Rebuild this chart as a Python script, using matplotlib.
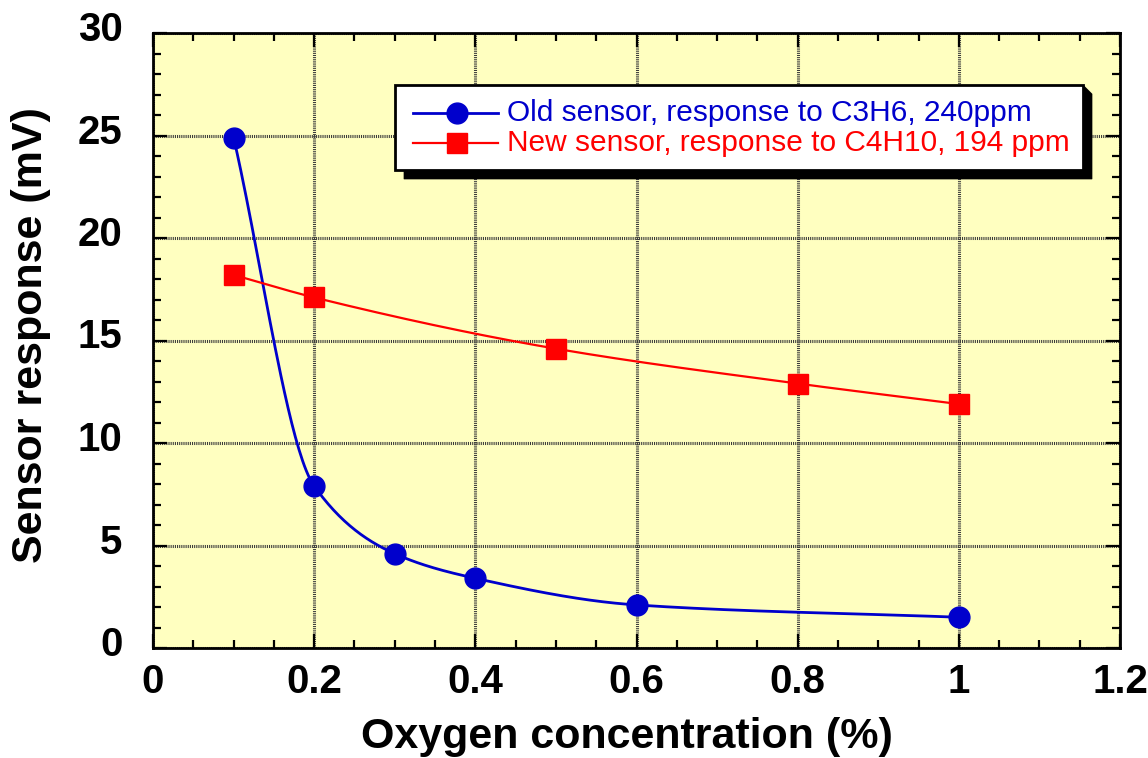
import numpy as np
import matplotlib
matplotlib.use("Agg")
import matplotlib.pyplot as plt
from matplotlib.ticker import MultipleLocator
from matplotlib.patches import Rectangle, Polygon
from matplotlib.lines import Line2D
from matplotlib.transforms import ScaledTranslation

# Measured sensor responses
old_x = [0.1, 0.2, 0.3, 0.4, 0.6, 1.0]
old_y = [24.9, 7.9, 4.6, 3.4, 2.1, 1.5]
new_x = [0.1, 0.2, 0.5, 0.8, 1.0]
new_y = [18.2, 17.1, 14.6, 12.9, 11.9]

old_label = "Old sensor, response to C3H6, 240ppm"
new_label = "New sensor, response to C4H10, 194 ppm"

x_ticks = [0, 0.2, 0.4, 0.6, 0.8, 1.0, 1.2]
x_tick_labels = ["0", "0.2", "0.4", "0.6", "0.8", "1", "1.2"]
y_ticks = [0, 5, 10, 15, 20, 25, 30]

FONT = ["Liberation Sans", "Arial", "DejaVu Sans"]


def pchip(x, y, n=400):
    """Monotone cubic curve through the given points (for drawing the line)."""
    x = np.asarray(x, float)
    y = np.asarray(y, float)
    h = np.diff(x)
    d = np.diff(y) / h
    m = np.zeros_like(y)
    for k in range(1, len(x) - 1):
        if d[k - 1] * d[k] > 0:
            w1 = 2 * h[k] + h[k - 1]
            w2 = h[k] + 2 * h[k - 1]
            m[k] = (w1 + w2) / (w1 / d[k - 1] + w2 / d[k])
    m[0] = d[0]
    m[-1] = d[-1]
    xs = np.linspace(x[0], x[-1], n)
    idx = np.clip(np.searchsorted(x, xs) - 1, 0, len(x) - 2)
    t = (xs - x[idx]) / h[idx]
    h00 = 2 * t**3 - 3 * t**2 + 1
    h10 = t**3 - 2 * t**2 + t
    h01 = -2 * t**3 + 3 * t**2
    h11 = t**3 - t**2
    ys = (h00 * y[idx] + h10 * h[idx] * m[idx]
          + h01 * y[idx + 1] + h11 * h[idx] * m[idx + 1])
    return xs, ys


W, H = 1148, 758
fig = plt.figure(figsize=(W / 100, H / 100), dpi=100)
ax_l, ax_r, ax_t, ax_b = 153, 1120, 33, 648
ax = fig.add_axes([ax_l / W, 1 - ax_b / H, (ax_r - ax_l) / W, (ax_b - ax_t) / H])
ax.set_facecolor("#FFFFC0")

blue = "#0000CC"
red = "#FF0000"

ox, oy = pchip(old_x, old_y)
ax.plot(ox, oy, color=blue, lw=2.0, zorder=3)
ax.plot(old_x, old_y, "o", color=blue, ms=15, mec=blue, zorder=4)

nx, ny = pchip(new_x, new_y)
ax.plot(nx, ny, color=red, lw=1.6, zorder=3)
ax.plot(new_x, new_y, "s", color=red, ms=15, mec=red, zorder=4)

ax.set_xlim(0, 1.2)
ax.set_ylim(0, 30)
ax.set_xticks(x_ticks)
ax.set_xticklabels(x_tick_labels)
ax.set_yticks(y_ticks)
ax.set_yticklabels([str(v) for v in y_ticks])
ax.xaxis.set_minor_locator(MultipleLocator(0.05))
ax.yaxis.set_minor_locator(MultipleLocator(1))

ax.grid(True, which="major", color="#3A3A3A", lw=2.2, ls=(0, (0.35, 0.35)), zorder=1)
ax.tick_params(which="both", direction="in", top=True, right=True,
               color="black", width=1.6)
ax.tick_params(which="major", length=10)
ax.tick_params(which="minor", length=6)
for s in ax.spines.values():
    s.set_linewidth(2.0)
    s.set_zorder(10)

for lab in ax.get_xticklabels() + ax.get_yticklabels():
    lab.set_fontfamily(FONT)
    lab.set_fontweight("bold")
    lab.set_fontsize(29)
ax.tick_params(axis="x", pad=11)
ax.tick_params(axis="y", pad=22)
shift_up = ScaledTranslation(0, 7 / 100, fig.dpi_scale_trans)
for lab in ax.get_yticklabels():
    lab.set_transform(lab.get_transform() + shift_up)

fig.text(627 / W, 1 - 748 / H, "Oxygen concentration (%)", fontfamily=FONT,
         fontweight="bold", fontsize=31, ha="center", va="baseline")
fig.text(42 / W, 1 - 335 / H, "Sensor response (mV)", fontfamily=FONT,
         fontweight="bold", fontsize=31, rotation=90, rotation_mode="anchor",
         ha="center", va="baseline")

# Legend box with a drop shadow, laid out in pixel positions
def fx(px):
    return px / W


def fy(py):
    return 1 - py / H


bx0, bx1, by0, by1 = 395, 1083, 85, 170
off = 9
shadow = Polygon([(fx(bx0 + off), fy(by1)), (fx(bx0 + off), fy(by1 + off)),
                  (fx(bx1 + off), fy(by1 + off)), (fx(bx1 + off), fy(by0 + off)),
                  (fx(bx1), fy(by0)), (fx(bx1), fy(by1))],
                 closed=True, transform=fig.transFigure, facecolor="black",
                 edgecolor="black", lw=0.5, zorder=5)
box = Rectangle((fx(bx0), fy(by1)), fx(bx1) - fx(bx0), fy(by0) - fy(by1),
                transform=fig.transFigure, facecolor="white", edgecolor="black",
                lw=2, zorder=6)
fig.add_artist(shadow)
fig.add_artist(box)

rows = [(old_label, blue, "o", 15, 2.0, 113), (new_label, red, "s", 15, 1.6, 143)]
for text, col, mk, ms, lw, py in rows:
    fig.add_artist(Line2D([fx(413), fx(498)], [fy(py), fy(py)],
                          transform=fig.transFigure, color=col, lw=lw, zorder=7))
    fig.add_artist(Line2D([fx(457)], [fy(py)], transform=fig.transFigure,
                          marker=mk, color=col, ms=ms, ls="none", zorder=8))
    fig.text(fx(507), fy(py), text, color=col, fontsize=21.5, fontfamily=FONT,
             va="center", ha="left", zorder=8)

fig.savefig("out.png", dpi=100)
